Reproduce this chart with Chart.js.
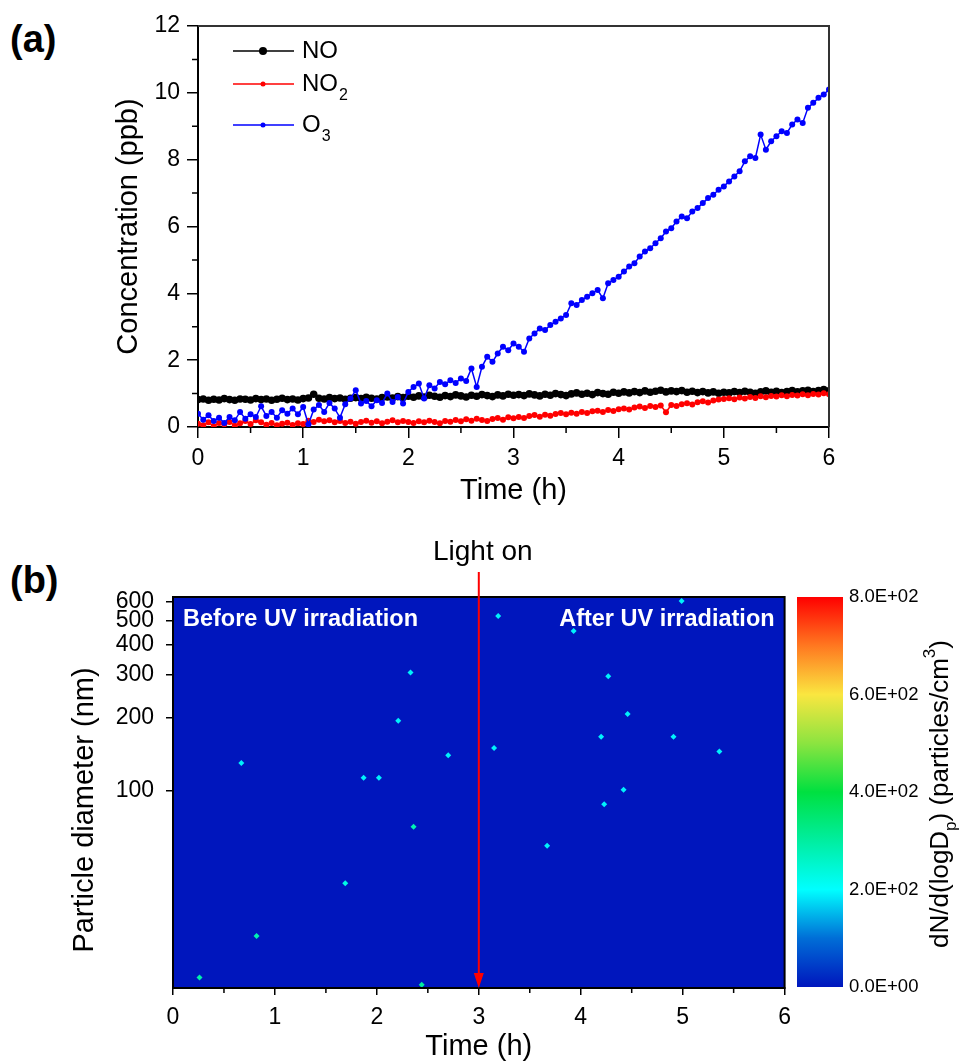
<!DOCTYPE html>
<html><head><meta charset="utf-8">
<script src="https://cdn.jsdelivr.net/npm/chart.js@4.4.1/dist/chart.umd.min.js"></script>
<style>
body{margin:0;background:#fff;width:965px;height:1064px;position:relative;overflow:hidden;font-family:"Liberation Sans",Arial,sans-serif}
canvas{position:absolute}
.panel{position:absolute;font-weight:bold;font-size:38px;color:#000;line-height:1}
</style></head><body>
<div class="panel" style="left:10px;top:20px">(a)</div>
<div class="panel" style="left:10px;top:561px">(b)</div>
<canvas id="cTop" width="965" height="520" style="left:0;top:0"></canvas>
<canvas id="cHeat" width="800" height="534" style="left:0;top:530px"></canvas>
<canvas id="cBar" width="185" height="534" style="left:780px;top:530px"></canvas>
<script>
// ---------------- DATA ----------------
const timeH = [0,0.05,0.1,0.15,0.2,0.25,0.3,0.35,0.4,0.45,0.5,0.55,0.6,0.65,0.7,0.75,0.8,0.85,0.9,0.95,1,
1.05,1.1,1.15,1.2,1.25,1.3,1.35,1.4,1.45,1.5,1.55,1.6,1.65,1.7,1.75,1.8,1.85,1.9,1.95,2,
2.05,2.1,2.15,2.2,2.25,2.3,2.35,2.4,2.45,2.5,2.55,2.6,2.65,2.7,2.75,2.8,2.85,2.9,2.95,3,
3.05,3.1,3.15,3.2,3.25,3.3,3.35,3.4,3.45,3.5,3.55,3.6,3.65,3.7,3.75,3.8,3.85,3.9,3.95,4,
4.05,4.1,4.15,4.2,4.25,4.3,4.35,4.4,4.45,4.5,4.55,4.6,4.65,4.7,4.75,4.8,4.85,4.9,4.95,5,
5.05,5.1,5.15,5.2,5.25,5.3,5.35,5.4,5.45,5.5,5.55,5.6,5.65,5.7,5.75,5.8,5.85,5.9,5.95,6];

const noPpb = [0.82,0.84,0.80,0.83,0.81,0.85,0.82,0.80,0.84,0.83,0.81,0.85,0.82,0.84,0.80,0.83,0.86,0.82,0.84,0.81,0.85,
0.87,0.98,0.86,0.84,0.88,0.85,0.87,0.83,0.86,0.88,0.85,0.89,0.86,0.84,0.88,0.90,0.87,0.91,0.88,0.92,
0.89,0.93,0.90,0.95,0.92,0.89,0.94,0.91,0.96,0.93,0.90,0.95,0.92,0.97,0.94,0.91,0.96,0.93,0.98,0.95,
0.97,0.94,0.99,0.96,0.93,0.98,0.95,1.00,0.97,0.94,0.99,1.02,0.98,1.01,0.97,1.03,1.00,0.98,1.04,1.01,
1.05,1.02,1.06,1.03,1.08,1.04,1.07,1.10,1.05,1.08,1.06,1.09,1.04,1.07,1.03,1.06,1.02,1.05,1.01,1.04,
1.02,1.06,1.03,1.07,1.04,1.01,1.05,1.08,1.04,1.07,1.03,1.06,1.09,1.05,1.08,1.10,1.06,1.09,1.12,1.08];

const no2Ppb = [0.10,0.05,0.14,0.02,0.12,0.08,0.15,0.04,0.11,0.18,0.09,0.20,0.14,0.07,0.12,0.05,0.10,0.13,0.06,0.11,0.09,
0.19,0.15,0.22,0.17,0.20,0.14,0.18,0.12,0.16,0.10,0.15,0.19,0.13,0.17,0.11,0.16,0.20,0.14,0.18,0.15,
0.12,0.17,0.14,0.19,0.15,0.11,0.18,0.16,0.21,0.17,0.23,0.19,0.25,0.21,0.18,0.24,0.27,0.22,0.29,0.26,
0.30,0.27,0.33,0.36,0.31,0.37,0.34,0.39,0.42,0.38,0.43,0.40,0.45,0.42,0.47,0.49,0.45,0.51,0.48,0.53,
0.55,0.52,0.58,0.61,0.57,0.63,0.60,0.64,0.44,0.66,0.63,0.68,0.71,0.67,0.74,0.77,0.73,0.79,0.82,0.84,
0.86,0.83,0.88,0.85,0.90,0.87,0.92,0.89,0.93,0.91,0.95,0.92,0.96,0.94,0.98,0.95,0.99,0.97,1.01,0.98];

const o3Ppb = [0.40,0.22,0.35,0.18,0.28,0.12,0.30,0.20,0.45,0.25,0.38,0.30,0.62,0.33,0.45,0.28,0.50,0.40,0.55,0.38,0.60,
0.08,0.52,0.66,0.45,0.72,0.55,0.28,0.68,0.85,1.10,0.70,0.78,0.62,0.80,0.72,1.00,0.75,0.90,0.70,1.05,
1.20,1.30,0.85,1.25,1.15,1.35,1.28,1.40,1.32,1.45,1.38,1.75,1.20,1.80,2.10,1.95,2.20,2.40,2.30,2.50,
2.40,2.25,2.65,2.80,2.95,2.90,3.05,3.15,3.25,3.35,3.70,3.65,3.80,3.90,4.00,4.10,3.85,4.30,4.40,4.50,
4.65,4.80,4.90,5.10,5.25,5.35,5.50,5.65,5.85,5.95,6.15,6.30,6.25,6.45,6.55,6.70,6.85,6.95,7.10,7.20,
7.35,7.50,7.65,7.95,8.10,8.05,8.75,8.30,8.55,8.70,8.85,8.80,9.05,9.20,9.10,9.55,9.70,9.85,9.95,10.10];

const topXMinor = [0.5,1.5,2.5,3.5,4.5,5.5];
const topYMinor = [1,3,5,7,9,11];

const heatTimeH      = [0.26,0.67,0.82,1.69,1.87,2.02,2.21,2.33,2.36,2.44,2.70,3.15,3.19,3.67,3.93,4.20,4.23,4.27,4.42,4.46,4.91,4.99,5.36];
const heatDiameterNm = [17.0,130,25.2,41.6,113,113,194,307,71,15.9,140,150,524,59.4,455,167,88,296,101,207,167,605,145];
const heatDNdlogDp   = [290,190,280,230,190,190,190,190,280,300,190,190,190,190,190,190,190,190,190,190,190,190,190];
const diameterTicks  = [100,200,300,400,500,600];
const heatXMinor     = [0.5,1.5,2.5,3.5,4.5,5.5];
const colorbarTicks  = [0,200,400,600,800];
const lightOnTimeH   = 3;

// ---------------- STYLE ----------------
const FONT = '"Liberation Sans", Arial, sans-serif';
Chart.defaults.font.family = FONT;
Chart.defaults.color = '#000';

const CMAP = [[0,[0,22,189]],[100,[0,110,215]],[200,[0,255,255]],[300,[0,238,160]],[400,[0,224,64]],
              [500,[140,228,64]],[600,[250,230,64]],[700,[255,120,32]],[800,[255,0,0]]];
function cmap(v){
  if (v <= CMAP[0][0]) return 'rgb(' + CMAP[0][1].join(',') + ')';
  for (let i = 1; i < CMAP.length; i++) {
    if (v <= CMAP[i][0]) {
      const [v0,c0] = CMAP[i-1], [v1,c1] = CMAP[i];
      const f = (v - v0) / (v1 - v0);
      return 'rgb(' + c0.map((c,k)=>Math.round(c + (c1[k]-c)*f)).join(',') + ')';
    }
  }
  return 'rgb(' + CMAP[CMAP.length-1][1].join(',') + ')';
}
function sci(v){
  if (v === 0) return '0.0E+00';
  const e = Math.floor(Math.log10(v));
  const m = v / Math.pow(10, e);
  return m.toFixed(1) + 'E+' + String(e).padStart(2,'0');
}

// ---------------- TOP CHART ----------------
const topPlugin = {
  id: 'topDecor',
  afterDraw(chart){
    const {ctx, chartArea:a, scales:{x, y}} = chart;
    ctx.save();
    ctx.strokeStyle = '#333'; ctx.lineWidth = 2;
    ctx.beginPath(); ctx.moveTo(a.left, a.top); ctx.lineTo(a.right, a.top); ctx.lineTo(a.right, a.bottom); ctx.stroke();
    ctx.strokeStyle = '#000'; ctx.lineWidth = 1.5;
    ctx.beginPath();
    topXMinor.forEach(v => { const p = x.getPixelForValue(v); ctx.moveTo(p, a.bottom); ctx.lineTo(p, a.bottom + 6); });
    topYMinor.forEach(v => { const p = y.getPixelForValue(v); ctx.moveTo(a.left, p); ctx.lineTo(a.left - 6, p); });
    ctx.stroke();
    // legend
    const entries = [
      {main:'NO', sub:'', color:'#000', r:4, y:51},
      {main:'NO', sub:'2', color:'#ff0000', r:2.5, y:84},
      {main:'O', sub:'3', color:'#0000ff', r:2.5, y:125}
    ];
    entries.forEach(e => {
      ctx.strokeStyle = e.color; ctx.lineWidth = 1.5;
      ctx.beginPath(); ctx.moveTo(233, e.y); ctx.lineTo(294, e.y); ctx.stroke();
      ctx.fillStyle = e.color;
      ctx.beginPath(); ctx.arc(263, e.y, e.r, 0, Math.PI*2); ctx.fill();
      ctx.fillStyle = '#000';
      ctx.textBaseline = 'middle'; ctx.textAlign = 'left';
      ctx.font = '24px ' + FONT;
      ctx.fillText(e.main, 302, e.y);
      if (e.sub) {
        const w = ctx.measureText(e.main).width;
        ctx.font = '16px ' + FONT;
        ctx.fillText(e.sub, 302 + w + 1, e.y + 12);
      }
    });
    ctx.restore();
  }
};

new Chart(document.getElementById('cTop'), {
  type: 'line',
  data: {
    datasets: [
      {label:'O3', data: timeH.map((t,i)=>({x:t, y:o3Ppb[i]})), borderColor:'#0000ff', backgroundColor:'#0000ff',
       borderWidth:1.5, pointRadius:3, pointBorderWidth:0, tension:0, order:0},
      {label:'NO2', data: timeH.map((t,i)=>({x:t, y:no2Ppb[i]})), borderColor:'#ff0000', backgroundColor:'#ff0000',
       borderWidth:1.5, pointRadius:3, pointBorderWidth:0, tension:0, order:1},
      {label:'NO', data: timeH.map((t,i)=>({x:t, y:noPpb[i]})), borderColor:'#000000', backgroundColor:'#000000',
       borderWidth:1.5, pointRadius:3.8, pointBorderWidth:0, tension:0, order:2}
    ]
  },
  options: {
    responsive:false, animation:false, events:[],
    layout:{padding:{left:100, right:136, top:26, bottom:0}},
    plugins:{legend:{display:false}, tooltip:{enabled:false}},
    scales:{
      x:{type:'linear', min:0, max:6,
         ticks:{stepSize:1, font:{size:23}, padding:7, maxRotation:0},
         grid:{drawOnChartArea:false, color:'#000', lineWidth:1.5, tickLength:11},
         border:{color:'#000', width:2},
         title:{display:true, text:'Time (h)', font:{size:29}, padding:{top:0, bottom:12}},
         afterFit(s){ s.height = 93; }},
      y:{type:'linear', min:0, max:12,
         ticks:{stepSize:2, font:{size:23}, padding:7},
         grid:{drawOnChartArea:false, color:'#000', lineWidth:1.5, tickLength:11},
         border:{color:'#000', width:2},
         title:{display:true, text:'Concentration (ppb)', font:{size:29}, padding:{top:12, bottom:0}},
         afterFit(s){ s.width = 98; }}
    }
  },
  plugins:[topPlugin]
});

// ---------------- HEATMAP ----------------
const HEAT_BG = 'rgb(0,22,189)';
const heatPlugin = {
  id: 'heatDecor',
  beforeDatasetsDraw(chart){
    const {ctx, chartArea:a} = chart;
    ctx.save(); ctx.fillStyle = HEAT_BG;
    ctx.fillRect(a.left, a.top, a.right - a.left, a.bottom - a.top);
    ctx.restore();
  },
  afterDraw(chart){
    const {ctx, chartArea:a, scales:{x}} = chart;
    ctx.save();
    ctx.strokeStyle = '#000'; ctx.lineWidth = 2;
    ctx.strokeRect(a.left, a.top, a.right - a.left, a.bottom - a.top);
    ctx.lineWidth = 1.5;
    ctx.beginPath();
    heatXMinor.forEach(v => { const p = x.getPixelForValue(v); ctx.moveTo(p, a.bottom); ctx.lineTo(p, a.bottom + 5); });
    ctx.stroke();
    // texts inside
    ctx.fillStyle = '#fff'; ctx.font = 'bold 23.5px ' + FONT; ctx.textBaseline = 'middle';
    ctx.textAlign = 'left'; ctx.fillText('Before UV irradiation', a.left + 10, a.top + 23);
    ctx.textAlign = 'right'; ctx.fillText('After UV irradiation', a.right - 10, a.top + 23);
    // light on arrow
    const px = x.getPixelForValue(lightOnTimeH);
    ctx.strokeStyle = '#ff0000'; ctx.fillStyle = '#ff0000'; ctx.lineWidth = 2;
    ctx.beginPath(); ctx.moveTo(px, 42); ctx.lineTo(px, a.bottom - 12); ctx.stroke();
    ctx.beginPath(); ctx.moveTo(px, a.bottom); ctx.lineTo(px - 5, a.bottom - 15); ctx.lineTo(px + 5, a.bottom - 15); ctx.closePath(); ctx.fill();
    ctx.fillStyle = '#000'; ctx.font = '28px ' + FONT; ctx.textAlign = 'center';
    ctx.fillText('Light on', px + 4, 22);
    // y title
    ctx.save();
    ctx.translate(85, 280); ctx.rotate(-Math.PI/2);
    ctx.font = '29px ' + FONT; ctx.textAlign = 'center'; ctx.textBaseline = 'middle';
    ctx.fillText('Particle diameter (nm)', 0, 0);
    ctx.restore();
    ctx.restore();
  }
};

new Chart(document.getElementById('cHeat'), {
  type: 'scatter',
  data: {
    datasets: [{
      data: heatTimeH.map((t,i)=>({x:t, y:heatDiameterNm[i]})),
      pointBackgroundColor: heatDNdlogDp.map(cmap),
      pointBorderWidth:0, pointRadius:3, pointStyle:'rectRot'
    }]
  },
  options: {
    responsive:false, animation:false, events:[],
    layout:{padding:{left:60, right:14, top:67, bottom:0}},
    plugins:{legend:{display:false}, tooltip:{enabled:false}},
    scales:{
      x:{type:'linear', min:0, max:6,
         ticks:{stepSize:1, font:{size:23}, padding:9, maxRotation:0},
         grid:{drawOnChartArea:false, color:'#000', lineWidth:1.5, tickLength:7},
         border:{color:'#000', width:2},
         title:{display:true, text:'Time (h)', font:{size:29}, padding:{top:0, bottom:0}},
         afterFit(s){ s.height = 76; }},
      y:{type:'logarithmic', min:15.4, max:628,
         afterBuildTicks(s){ s.ticks = diameterTicks.map(v=>({value:v})); },
         ticks:{font:{size:23}, padding:12, autoSkip:false, callback:(v)=>String(v)},
         grid:{drawOnChartArea:false, color:'#000', lineWidth:1.5, tickLength:7},
         border:{color:'#000', width:2},
         afterFit(s){ s.width = 113; }}
    }
  },
  plugins:[heatPlugin]
});

// ---------------- COLORBAR ----------------
const barPlugin = {
  id: 'barDecor',
  beforeDatasetsDraw(chart){
    const {ctx, chartArea:a, scales:{y}} = chart;
    const y0 = y.getPixelForValue(0), y1 = y.getPixelForValue(800);
    const g = ctx.createLinearGradient(0, y0, 0, y1);
    CMAP.forEach(([v]) => g.addColorStop(v/800, cmap(v)));
    ctx.save(); ctx.fillStyle = g;
    ctx.fillRect(a.left, a.top, a.right - a.left, a.bottom - a.top);
    ctx.restore();
  },
  afterDraw(chart){
    const {ctx, chartArea:a} = chart;
    const segs = [['dN/d(logD','n'],['p','sub'],[') (particles/cm','n'],['3','sup'],[')','n']];
    ctx.save();
    ctx.translate(161, (a.top + a.bottom)/2 + 2);
    ctx.rotate(-Math.PI/2);
    ctx.textBaseline = 'middle'; ctx.textAlign = 'left'; ctx.fillStyle = '#000';
    const fMain = '26px ' + FONT, fSmall = '17px ' + FONT;
    let total = 0;
    segs.forEach(([t,k]) => { ctx.font = k === 'n' ? fMain : fSmall; total += ctx.measureText(t).width; });
    let cx = -total/2;
    segs.forEach(([t,k]) => {
      ctx.font = k === 'n' ? fMain : fSmall;
      const dy = k === 'sub' ? 10 : (k === 'sup' ? -11 : 0);
      ctx.fillText(t, cx, dy);
      cx += ctx.measureText(t).width;
    });
    ctx.restore();
  }
};

new Chart(document.getElementById('cBar'), {
  type: 'scatter',
  data: { datasets: [{data: []}] },
  options: {
    responsive:false, animation:false, events:[],
    layout:{padding:{left:17, right:0, top:67, bottom:77}},
    plugins:{legend:{display:false}, tooltip:{enabled:false}},
    scales:{
      x:{display:false, min:0, max:1},
      y:{position:'right', min:0, max:800,
         afterBuildTicks(s){ s.ticks = colorbarTicks.map(v=>({value:v})); },
         ticks:{font:{size:18.5}, padding:6, callback:(v)=>sci(v)},
         grid:{display:false, drawTicks:false},
         border:{display:false},
         afterFit(s){ s.width = 122; }}
    }
  },
  plugins:[barPlugin]
});
</script></body></html>
